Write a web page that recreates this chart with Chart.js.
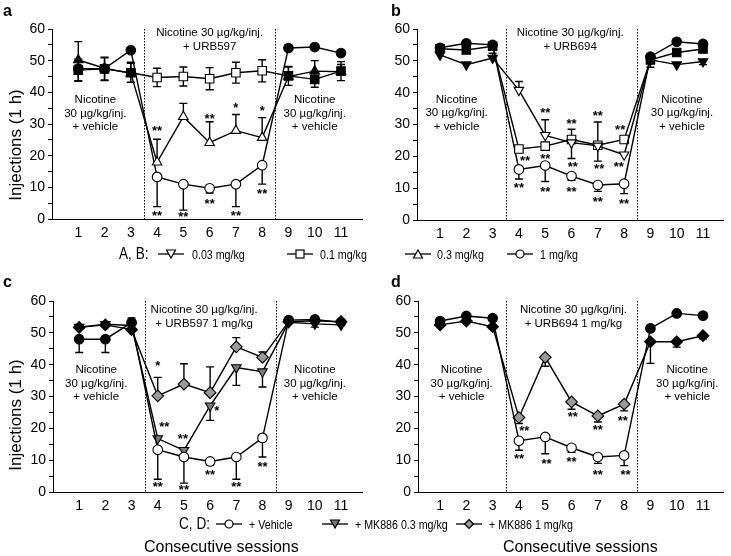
<!DOCTYPE html>
<html>
<head>
<meta charset="utf-8">
<script src="https://cdn.jsdelivr.net/npm/chart.js@4.4.0/dist/chart.umd.min.js"></script>
<style>
  body { margin: 0; background: #fff; }
  #fig { position: relative; width: 731px; height: 556px; font-family: "Liberation Sans", Arial, sans-serif; color: #000; overflow: hidden; }
  canvas { position: absolute; }
  .t { position: absolute; white-space: nowrap; line-height: 1; }
  .letter { font-weight: bold; font-size: 16px; }
  .leg { font-size: 13px; transform: scaleX(0.82); transform-origin: 0 0; }
  .legHead { font-size: 17px; transform: scaleX(0.8); transform-origin: 0 0; }
  .xt { font-size: 16px; }
  svg { position: absolute; }
</style>
</head>
<body>
<div id="fig">
  <canvas id="chartA" width="370" height="245" style="left:0;top:0"></canvas>
  <canvas id="chartB" width="365" height="245" style="left:366px;top:0"></canvas>
  <canvas id="chartC" width="370" height="245" style="left:0;top:270px"></canvas>
  <canvas id="chartD" width="365" height="245" style="left:366px;top:270px"></canvas>

  <div class="t letter" style="left:3px;top:3px">a</div>
  <div class="t letter" style="left:391px;top:3px">b</div>
  <div class="t letter" style="left:3px;top:274px">c</div>
  <div class="t letter" style="left:391px;top:274px">d</div>

  <!-- legend A, B -->
  <div class="t legHead" style="left:119px;top:245px">A, B:</div>
  <svg width="26" height="12" style="left:158px;top:248px"><line x1="0" y1="6" x2="26" y2="6" stroke="#000" stroke-width="1.3"/><polygon points="8.5,2 17.5,2 13,10" fill="#fff" stroke="#000" stroke-width="1.2"/></svg>
  <div class="t leg" style="left:192px;top:248px">0.03 mg/kg</div>
  <svg width="26" height="12" style="left:287px;top:248px"><line x1="0" y1="6" x2="26" y2="6" stroke="#000" stroke-width="1.3"/><rect x="9" y="2" width="8" height="8" fill="#fff" stroke="#000" stroke-width="1.2"/></svg>
  <div class="t leg" style="left:320px;top:248px">0.1 mg/kg</div>
  <svg width="26" height="12" style="left:405px;top:248px"><line x1="0" y1="6" x2="26" y2="6" stroke="#000" stroke-width="1.3"/><polygon points="13,2 17.5,10 8.5,10" fill="#fff" stroke="#000" stroke-width="1.2"/></svg>
  <div class="t leg" style="left:437px;top:248px">0.3 mg/kg</div>
  <svg width="26" height="12" style="left:507px;top:248px"><line x1="0" y1="6" x2="26" y2="6" stroke="#000" stroke-width="1.3"/><circle cx="13" cy="6" r="4" fill="#fff" stroke="#000" stroke-width="1.2"/></svg>
  <div class="t leg" style="left:540px;top:248px">1 mg/kg</div>

  <!-- legend C, D -->
  <div class="t legHead" style="left:179px;top:515px">C, D:</div>
  <svg width="26" height="12" style="left:216px;top:518px"><line x1="0" y1="6" x2="26" y2="6" stroke="#000" stroke-width="1.3"/><circle cx="13" cy="6" r="4" fill="#fff" stroke="#000" stroke-width="1.2"/></svg>
  <div class="t leg" style="left:249px;top:518px">+ Vehicle</div>
  <svg width="26" height="12" style="left:322px;top:518px"><line x1="0" y1="6" x2="26" y2="6" stroke="#000" stroke-width="1.3"/><polygon points="8.5,2 17.5,2 13,10" fill="#777" stroke="#000" stroke-width="1.2"/></svg>
  <div class="t leg" style="left:355px;top:518px">+ MK886 0.3 mg/kg</div>
  <svg width="26" height="12" style="left:456px;top:518px"><line x1="0" y1="6" x2="26" y2="6" stroke="#000" stroke-width="1.3"/><polygon points="13,1.5 17.5,6 13,10.5 8.5,6" fill="#999" stroke="#000" stroke-width="1.2"/></svg>
  <div class="t leg" style="left:489px;top:518px">+ MK886 1 mg/kg</div>

  <div class="t xt" style="left:144px;top:539px">Consecutive sessions</div>
  <div class="t xt" style="left:503px;top:539px">Consecutive sessions</div>
</div>

<script>
const sessions = [1, 2, 3, 4, 5, 6, 7, 8, 9, 10, 11];
const yTicks = [0, 5, 10, 15, 20, 25, 30, 35, 40, 45, 50, 55, 60];
const phaseBounds = [3.5, 8.5];
const font = '"Liberation Sans", Arial, sans-serif';

// a: URB597
const a1mg = [47.5, 47.5, 53.3, 13.3, 11.0, 9.7, 11.0, 17.0, 54.0, 54.3, 52.4];
const a1mgUp = [0, 0, 0, 0, 0, 0, 0, 0, 0, 0, 0];
const a1mgDown = [3.8, 3.8, 0, 9.4, 8.2, 1.5, 7.1, 6.0, 0, 0, 0];
const a03mg = [50.2, 47.6, 46.0, 17.9, 32.3, 24.1, 27.9, 25.7, 45.0, 46.7, 46.5];
const a03mgUp = [5.8, 3.5, 3.5, 7.3, 4.2, 6.6, 5.1, 6.3, 3.0, 3.3, 2.3];
const a03mgDown = [0, 0, 0, 0, 0, 0, 0, 0, 0, 0, 0];
const a01mg = [47.0, 47.4, 46.2, 44.7, 45.0, 44.3, 46.2, 46.8, 45.2, 44.1, 46.7];
const a01mgUp = [3.5, 3.5, 3.0, 2.9, 3.0, 3.5, 3.3, 3.5, 3.0, 2.5, 3.0];
const a01mgDown = [3.5, 3.5, 3.0, 2.9, 3.0, 3.5, 3.3, 3.5, 3.0, 2.5, 3.0];
const aStars = [[4, 28.9, '**'], [6, 32.8, '**'], [7, 36.2, '*'], [8, 35.3, '*'],
  [4, 2.0, '**'], [5, 1.6, '**'], [6, 5.8, '**'], [7, 2.1, '**'], [8, 8.9, '**']];

// b: URB694
const b1mg = [54.1, 55.5, 55.0, 15.9, 17.1, 13.8, 11.0, 11.4, 51.3, 56.0, 55.3];
const b1mgDown = [0, 0, 0, 3.0, 5.0, 1.3, 2.0, 3.1, 0, 0, 0];
const b01mg = [53.8, 53.4, 54.6, 22.3, 23.2, 25.3, 23.5, 25.3, 50.3, 52.6, 53.7];
const b01mgUp = [0, 0, 0, 0, 0, 3.2, 0, 0, 0, 0, 0];
const b01mgDown = [0, 0, 0, 0, 0, 0, 5.0, 0, 0, 0, 0];
const b003mg = [51.9, 48.8, 50.9, 40.8, 26.6, 24.3, 23.3, 20.5, 50.3, 48.8, 49.8];
const b003mgUp = [0, 0, 1.5, 2.7, 4.9, 0, 7.5, 0, 0, 0, 0];
const b003mgDown = [0, 0, 0, 0, 0, 5.0, 0, 0, 2.3, 0, 1.0];
const bStars = [[5, 34.6, '**'], [6, 31.4, '**'], [7, 33.7, '**'], [7.85, 29.3, '**'],
  [4.23, 19.6, '**'], [5, 20.4, '**'], [6.05, 17.8, '**'], [7.05, 17.0, '**'], [7.8, 17.6, '**'],
  [4, 11.0, '**'], [5, 9.9, '**'], [6, 9.9, '**'], [7, 6.6, '**'], [8, 6.0, '**']];

// c: URB597 1 mg/kg + MK886
const cVeh = [48.0, 48.0, 53.2, 13.3, 11.0, 9.6, 11.0, 17.0, 54.0, 54.2, 53.3];
const cVehUp = [0, 0, 1.5, 0, 0, 0, 0, 0, 0, 0, 0.6];
const cVehDown = [4.2, 4.2, 0, 9.3, 8.2, 1.2, 7.0, 6.0, 0, 0, 0];
const cMk03 = [51.8, 52.7, 52.3, 16.8, 13.1, 27.1, 39.1, 37.8, 53.3, 52.8, 52.5];
const cMk03Down = [0, 0, 0, 0, 0, 4.6, 5.6, 4.8, 0, 1.0, 0];
const cMk1 = [51.7, 52.5, 51.0, 30.2, 33.9, 31.2, 45.6, 42.3, 53.5, 53.8, 53.5];
const cMk1Up = [0, 0, 0, 5.8, 6.4, 8.1, 2.9, 1.7, 0, 0, 0];
const cStars = [[4, 40.6, '*'], [4.25, 21.5, '**'], [4.96, 17.6, '**'], [6.25, 26.5, '*'],
  [4, 2.6, '**'], [5, 1.6, '**'], [6, 6.3, '**'], [7, 2.6, '**'], [8, 8.9, '**']];

// d: URB694 1 mg/kg + MK886
const dVeh = [53.7, 55.3, 54.6, 16.1, 17.3, 13.9, 11.0, 11.5, 51.4, 56.1, 55.4];
const dVehDown = [0, 0, 0, 3.0, 5.3, 1.4, 2.0, 3.2, 0, 0, 0];
const dMk1 = [52.5, 53.7, 51.9, 23.4, 42.3, 28.3, 23.9, 27.6, 47.2, 47.2, 49.1];
const dMk1Down = [0, 0, 0, 1.9, 2.8, 2.3, 1.9, 2.1, 6.8, 1.7, 1.0];
const dStars = [[4.2, 20.3, '**'], [6.05, 24.7, '**'], [7, 20.5, '**'], [7.95, 23.4, '**'],
  [4, 11.5, '**'], [5.05, 10.0, '**'], [6, 10.5, '**'], [7, 6.5, '**'], [8.05, 6.3, '**']];

const vehicleText = ['Nicotine', '30 µg/kg/inj.', '+ vehicle'];
const topA = ['Nicotine 30 µg/kg/inj.', '+ URB597'];
const topB = ['Nicotine 30 µg/kg/inj.', '+ URB694'];
const topC = ['Nicotine 30 µg/kg/inj.', '+ URB597 1 mg/kg'];
const topD = ['Nicotine 30 µg/kg/inj.', '+ URB694 1 mg/kg'];

function fills(treat) {
  return sessions.map(s => (s >= 4 && s <= 8) ? treat : '#000');
}

function series(vals, up, down, style, treat, radius, rot) {
  return {
    data: sessions.map((s, i) => ({ x: s, y: vals[i] })),
    errUp: up,
    errDown: down,
    borderColor: '#000',
    borderWidth: 1.4,
    pointStyle: style,
    pointRotation: rot || 0,
    pointRadius: radius,
    pointBackgroundColor: fills(treat),
    pointBorderColor: '#000',
    pointBorderWidth: 1.1,
    tension: 0,
    fill: false
  };
}

const annot = {
  id: 'annot',
  beforeDatasetsDraw(chart) {
    const { ctx, chartArea: ca, scales: { x, y } } = chart;
    ctx.save();
    ctx.strokeStyle = '#000';
    ctx.lineWidth = 1;
    ctx.setLineDash([1.5, 1.5]);
    phaseBounds.forEach(b => {
      const px = Math.round(x.getPixelForValue(b)) + 0.5;
      ctx.beginPath();
      ctx.moveTo(px, ca.top);
      ctx.lineTo(px, ca.bottom);
      ctx.stroke();
    });
    ctx.setLineDash([]);
    ctx.lineWidth = 1.4;
    chart.data.datasets.forEach(ds => {
      ds.data.forEach((p, i) => {
        const px = x.getPixelForValue(p.x);
        [[ds.errUp, 1], [ds.errDown, -1]].forEach(([arr, sgn]) => {
          if (!arr || !arr[i]) return;
          const y0 = y.getPixelForValue(p.y);
          const y1 = y.getPixelForValue(p.y + sgn * arr[i]);
          ctx.beginPath();
          ctx.moveTo(px, y0);
          ctx.lineTo(px, y1);
          ctx.moveTo(px - 4, y1);
          ctx.lineTo(px + 4, y1);
          ctx.stroke();
        });
      });
    });
    ctx.restore();
  },
  afterDraw(chart, args, opts) {
    const { ctx, scales: { x, y } } = chart;
    ctx.save();
    ctx.fillStyle = '#000';
    ctx.textAlign = 'center';
    ctx.textBaseline = 'middle';
    ctx.font = '11.5px ' + font;
    (opts.blocks || []).forEach(b => {
      const px = x.getPixelForValue(b.x);
      const py = y.getPixelForValue(b.y);
      b.lines.forEach((l, k) => ctx.fillText(l, px, py + k * 13.6));
    });
    ctx.font = 'bold 13px ' + font;
    ctx.textBaseline = 'alphabetic';
    (opts.stars || []).forEach(s => {
      ctx.fillText(s[2], x.getPixelForValue(s[0]), y.getPixelForValue(s[1]) + 7.5);
    });
    if (opts.yTitle) {
      ctx.font = '17px ' + font;
      ctx.textBaseline = 'middle';
      ctx.translate(16, 145);
      ctx.rotate(-Math.PI / 2);
      ctx.fillText(opts.yTitle, 0, 0);
    }
    ctx.restore();
  }
};

function makePanel(id, datasets, cfg) {
  return new Chart(document.getElementById(id), {
    type: 'line',
    data: { datasets: datasets },
    plugins: [annot],
    options: {
      responsive: false,
      animation: false,
      events: [],
      layout: { padding: { top: cfg.top, right: cfg.right, left: 0, bottom: 0 } },
      plugins: {
        legend: { display: false },
        tooltip: { enabled: false },
        annot: { blocks: cfg.blocks, stars: cfg.stars, yTitle: cfg.yTitle }
      },
      scales: {
        x: {
          type: 'linear',
          min: cfg.xmin,
          max: cfg.xmax,
          afterBuildTicks: s => { s.ticks = sessions.map(v => ({ value: v })); },
          afterFit: s => { s.height = cfg.xH; },
          grid: { drawOnChartArea: false, drawTicks: false },
          border: { color: '#000', width: 1 },
          ticks: { color: '#000', font: { size: 14, family: font }, padding: 6, maxRotation: 0, autoSkip: false }
        },
        y: {
          min: 0,
          max: 60,
          afterBuildTicks: s => { s.ticks = yTicks.map(v => ({ value: v })); },
          afterFit: s => { s.width = cfg.yW; },
          grid: { drawOnChartArea: false, tickLength: 4, color: '#000' },
          border: { color: '#000', width: 1 },
          ticks: { color: '#000', font: { size: 14, family: font }, padding: 3, autoSkip: false,
            callback: v => (v % 10 === 0 ? v : '') }
        }
      }
    }
  });
}

makePanel('chartA', [
  series(a01mg, a01mgUp, a01mgDown, 'rect', '#fff', 6),
  series(a03mg, a03mgUp, a03mgDown, 'triangle', '#fff', 5.5),
  series(a1mg, a1mgUp, a1mgDown, 'circle', '#fff', 4.8)
], {
  top: 29, right: 8, xH: 26, yW: 52, xmin: 0, xmax: 11.8, yTitle: 'Injections (1 h)', stars: aStars,
  blocks: [{ x: 6, y: 58.7, lines: topA }, { x: 1.65, y: 37.6, lines: vehicleText }, { x: 10, y: 37.6, lines: vehicleText }]
});

makePanel('chartB', [
  series(b003mg, b003mgUp, b003mgDown, 'triangle', '#fff', 5.5, 180),
  series(b01mg, b01mgUp, b01mgDown, 'rect', '#fff', 6),
  series(b1mg, null, b1mgDown, 'circle', '#fff', 4.8)
], {
  top: 29, right: 8, xH: 25, yW: 51, xmin: 0.125, xmax: 11.76, stars: bStars,
  blocks: [{ x: 5.95, y: 58.7, lines: topB }, { x: 1.63, y: 37.9, lines: vehicleText }, { x: 10.2, y: 37.9, lines: vehicleText }]
});

makePanel('chartC', [
  series(cVeh, cVehUp, cVehDown, 'circle', '#fff', 4.8),
  series(cMk03, null, cMk03Down, 'triangle', '#7a7a7a', 5.5, 180),
  series(cMk1, cMk1Up, null, 'rectRot', '#9a9a9a', 5.8)
], {
  top: 31, right: 8, xH: 23, yW: 53, xmin: 0, xmax: 11.8, yTitle: 'Injections (1 h)', stars: cStars,
  blocks: [{ x: 5.77, y: 57.2, lines: topC }, { x: 1.65, y: 38.4, lines: vehicleText }, { x: 10, y: 38.4, lines: vehicleText }]
});

makePanel('chartD', [
  series(dVeh, null, dVehDown, 'circle', '#fff', 4.8),
  series(dMk1, null, dMk1Down, 'rectRot', '#9a9a9a', 5.8)
], {
  top: 31, right: 8, xH: 23, yW: 52, xmin: 0.16, xmax: 11.76, stars: dStars,
  blocks: [{ x: 6.07, y: 57.2, lines: topD }, { x: 1.82, y: 38.4, lines: vehicleText }, { x: 10.4, y: 38.4, lines: vehicleText }]
});
</script>
</body>
</html>
